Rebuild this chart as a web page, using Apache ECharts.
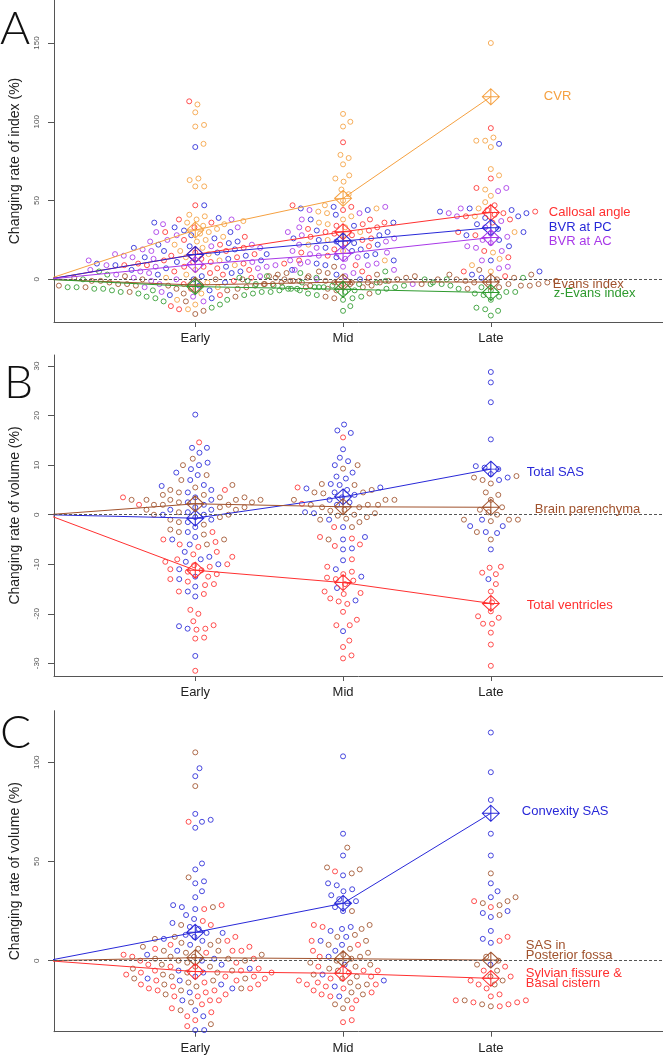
<!DOCTYPE html>
<html><head><meta charset="utf-8">
<script src="https://cdn.jsdelivr.net/npm/echarts@6/dist/echarts.min.js"></script>
<style>html,body{margin:0;padding:0;background:#fff}#c{width:663px;height:1055px}</style>
</head><body><div id="c"></div>
<script>
// ---------- categories / ticks ----------
const groups = ['Early', 'Mid', 'Late'];
const ticksA = [0, 50, 100, 150];
const ticksB = [-30, -20, -10, 0, 10, 20, 30];
const ticksC = [0, 50, 100];

// ---------- Panel A : changing rate of index (%) ----------
const cvrE = [111, 106, 98, 97, 86, 64, 63, 59, 59, 41, 40, 38, 37, 36, 35, 34, 32, 30, 29, 27, 25, 24, 22, 20, 18, 16, 14, 12, 9, 6, 3, 1, -2, -5, -9, -13, -16, -19];
const cvrM = [105, 100, 97, 79, 77, 73, 66, 64, 62, 57, 54, 50, 47, 45, 43, 42, 40, 38, 36, 35, 33, 30, 28, 25, 22, 18, 12];
const cvrL = [150, 90, 88, 88, 84, 70, 66, 57, 53, 49, 45, 40, 30, 17, 13, 9, 5];
const cvrMean = [31.3, 51.4, 115.9];

const caE = [113, 47, 38, 36, 33, 30, 27, 25, 22, 20, 18, 17, 16, 15, 14, 13, 12, 11, 11, 10, 10, 10, 9, 9, 8, 8, 7, 6, 5, 4, 3, 1, -1, -3, -6, -10, -17, -19];
const caM = [87, 47, 46, 44, 38, 36, 35, 34, 33, 32, 31, 30, 29, 28, 27, 26, 25, 23, 21, 19, 17, 15, 12, 9, 5, 1, -3];
const caL = [96, 64, 58, 47, 44, 43, 42, 41, 40, 38, 36, 30, 28, 18, 14, 5, 2];
const caMean = [15.8, 30.2, 42.4];

const pcE = [84, 47, 39, 36, 33, 31, 30, 28, 26, 24, 23, 22, 21, 20, 19, 18, 17, 16, 15, 14, 13, 12, 11, 10, 9, 8, 7, 6, 5, 4, 3, 2, 0, -2, -4, -7, -10, -12];
const pcM = [46, 45, 44, 41, 38, 36, 34, 31, 30, 28, 26, 25, 24, 23, 22, 20, 19, 18, 16, 15, 14, 12, 10, 9, 6, 3, 0];
const pcL = [86, 45, 44, 43, 42, 40, 39, 35, 32, 30, 28, 25, 21, 12, 5, 3, 1];
const pcMean = [15.8, 24.3, 32.8];

const acE = [38, 35, 33, 30, 28, 25, 24, 22, 21, 20, 19, 18, 16, 15, 14, 13, 12, 11, 10, 9, 9, 8, 8, 7, 6, 6, 5, 4, 3, 2, 1, 0, -1, -3, -5, -8, -11, -14];
const acM = [46, 44, 42, 38, 33, 30, 28, 26, 24, 22, 20, 18, 17, 16, 15, 14, 13, 12, 11, 10, 9, 8, 6, 4, 2, 0, -3];
const acL = [58, 56, 45, 42, 40, 37, 33, 29, 27, 25, 23, 21, 20, 18, 12, 8, 7];
const acMean = [9.4, 16.4, 26.5];

const evE = [4, 3, 2, 2, 1, 1, 0, 0, 0, -1, -1, -1, -1, -2, -2, -2, -2, -3, -3, -3, -3, -3, -4, -4, -4, -4, -5, -5, -5, -6, -6, -7, -8, -9, -11, -14, -20, -22];
const evM = [8, 5, 4, 3, 2, 2, 1, 1, 0, 0, 0, -1, -1, -1, -2, -2, -2, -3, -3, -4, -4, -5, -6, -7, -9, -11, -12];
const evL = [6, 3, 3, 1, 0, 0, -1, -1, -2, -2, -2, -3, -3, -4, -4, -5, -6];
const evMean = [-3.6, -1.7, -1.7];

const zeE = [5, 3, 1, 0, -1, -1, -2, -2, -3, -3, -3, -4, -4, -4, -4, -5, -5, -5, -5, -6, -6, -6, -6, -7, -7, -7, -8, -8, -8, -9, -9, -10, -11, -12, -13, -14, -16, -18];
const zeM = [5, 4, 2, 1, 0, -1, -2, -3, -3, -4, -4, -5, -5, -5, -6, -6, -7, -7, -8, -8, -9, -10, -11, -12, -13, -17, -20];
const zeL = [1, 0, -2, -3, -4, -5, -6, -7, -8, -8, -9, -10, -11, -13, -18, -19, -20, -23];
const zeMean = [-4.6, -6.3, -8.4];

// ---------- Panel B : changing rate of volume (%) ----------
const sasE = [20.2, 13.5, 13.5, 12.5, 10.5, 10, 9.2, 8.5, 8, 7, 6, 5.8, 5, 4.5, 3.5, 3, 2.5, 2, 1.5, 1, 1, 0.5, 0, 0, -0.5, -1, -1.5, -2.5, -3.5, -4.5, -5, -6, -7.5, -8.5, -9, -9.5, -10, -11, -12.5, -13, -14.5, -15.5, -16.5, -22.5, -23, -28.5];
const sasM = [18.2, 17, 16.5, 13.2, 11.5, 10.8, 10, 8.5, 7.7, 7.3, 6.2, 6, 5.5, 5.3, 5, 4.5, 4, 3.5, 3, 2.5, 2, 0.5, 0.3, -1, -2.5, -4.5, -5, -6.8, -7, -9.2, -11, -12.5, -14.8, -17.3, -23.5];
const sasL = [28.8, 26.7, 22.7, 15.2, 9.8, 9.5, 9.2, 8.2, 7.5, 7, -1, -2.3, -2.3, -3.5, -3.7, -7, -13];
const sasMean = [-0.7, 3.6, 9.2];

const bpE = [11.3, 10, 8, 7, 6, 5.5, 5, 4.5, 4, 4, 3.5, 3.5, 3, 3, 3, 3, 3, 2.5, 2.5, 2, 2, 2, 1.5, 1.5, 1, 1, 0.5, 0, 0, -0.5, -1, -1.5, -2, -3, -3.5, -4, -5, -6];
const bpM = [10, 9.3, 6.2, 6, 5, 4.5, 4.5, 4.3, 3, 3, 3, 2, 2, 2, 1.5, 1.5, 1, 0.8, 0.3, 0, -0.2, -0.5, -0.8, -1, -1.5, -2.5, -5];
const bpL = [7.8, 7.5, 7, 6.3, 4.5, 4, 3, 1.5, 1, 0.5, 0, -1, -1, -1, -1.3, -3.5, -5];
const bpMean = [2.2, 1.6, 1.5];

const tvE = [14.6, 5, 3.5, 2, -3.5, -5, -5.5, -6, -6.5, -7.5, -8, -8.5, -9, -9.5, -10, -10.2, -10.5, -11, -11.2, -11.5, -12, -12.5, -13, -13.5, -14, -14.2, -15.5, -16, -19.2, -20, -21.5, -22.3, -23, -23.2, -24.8, -25, -31.5];
const tvM = [15.6, 5.5, 2.2, -2.5, -4.5, -4.8, -6, -6.3, -9, -10.5, -11.5, -12, -12.7, -13, -13.3, -14, -15.5, -15.8, -16, -16.9, -17.5, -18, -19.6, -21.2, -22.3, -22.3, -25.4, -26.7, -28.4, -29];
const tvL = [-10.5, -10.7, -11.7, -12, -14, -15.5, -17.7, -19.5, -20.5, -20.8, -22, -22, -23.8, -26.2, -30.5];
const tvMean = [-11.2, -13.7, -17.9];

// ---------- Panel C : changing rate of volume (%) ----------
const cxE = [97, 93, 74, 71, 70, 67, 49, 46, 40, 39, 35, 32, 28, 27, 26, 23, 21, 19, 17, 16, 14, 14, 13, 12, 11, 10, 8, 5, 3, 1, 0, -2, -4, -5, -6, -8, -9, -10, -12, -14, -16, -20, -25, -28, -35, -35];
const cxM = [103, 64, 53, 43, 39, 38, 36, 35, 33, 31, 30, 29, 27, 25, 17, 16, 15, 12, 10, 8, 5, 2, -2, -7, -10, -13, -18];
const cxL = [115, 95, 81, 64, 53, 39, 35, 32, 25, 24, 22, 15, 11, 9, -2];
const cxMean = [14.3, 28.9, 74.3];

const pfE = [105, 88, 42, 27, 18, 12, 11, 10, 9, 8, 7, 6, 5, 5, 4, 3, 2, 2, 1, 1, 0, 0, -1, -2, -3, -3, -4, -5, -6, -6, -7, -8, -9, -9, -10, -11, -12, -13, -14, -15, -17, -21, -25, -32];
const pfM = [57, 47, 46, 44, 25, 18, 16, 13, 12, 10, 8, 6, 4, 3, 2, 1, 0, -1, -2, -3, -4, -5, -7, -8, -9, -11, -12, -13, -16, -17, -20, -22, -24];
const pfL = [44, 32, 30, 29, 28, 23, 2, 0, -2, -5, -8, -10, -12, -20, -22, -23];
const pfMean = [1.5, 1.0, 0.3];

const syE = [70, 28, 26, 20, 18, 12, 10, 8, 7, 6, 5, 5, 4, 3, 2, 1, 0, -1, -2, -3, -4, -5, -5, -6, -6, -7, -8, -8, -9, -10, -10, -11, -12, -12, -13, -14, -14, -15, -15, -16, -17, -18, -18, -20, -20, -22, -24, -26, -28, -30, -33];
const syM = [45, 18, 17, 10, 8, 5, 2, -3, -5, -5, -6, -8, -9, -10, -11, -12, -12, -13, -14, -15, -16, -17, -18, -20, -24, -30, -31];
const syL = [30, 27, 12, 10, -3, -5, -8, -10, -12, -14, -17, -18, -20, -20, -21, -21, -22, -23];
const syMean = [-5.5, -6.4, -8.9];

// ---------- layout / style ----------
const FONT = '"Liberation Sans", Arial, sans-serif';
const C_OR = '#F5A040', C_RD = '#FF3030', C_BL = '#2828D8', C_PU = '#A838E8', C_BR = '#A0522D', C_GR = '#2E9A2E';
const X_MIN = 0.044, X_MAX = 4.165, GRID_LEFT = 49, GRID_W = 614, SWARM_D = 9;

const panels = [
  { letter: 'A', letterX: 0, letterY: 29.5, title: 'Changing rate of index (%)', top: -35, height: 357, yMin: -27.08, yMax: 177.31, ticks: ticksA,
    series: [
      { name: 'CVR', color: C_OR, pts: [cvrE, cvrM, cvrL], mean: cvrMean, dx: 53, dy: -0.6 },
      { name: 'Callosal angle', color: C_RD, pts: [caE, caM, caL], mean: caMean, dx: 58, dy: 0 },
      { name: 'BVR at PC', color: C_BL, pts: [pcE, pcM, pcL], mean: pcMean, dx: 58, dy: 0 },
      { name: 'BVR at AC', color: C_PU, pts: [acE, acM, acL], mean: acMean, dx: 58, dy: 3.6 },
      { name: 'Evans index', color: C_BR, pts: [evE, evM, evL], mean: evMean, dx: 62, dy: 2.3 },
      { name: 'z-Evans index', color: C_GR, pts: [zeE, zeM, zeL], mean: zeMean, dx: 63, dy: 0.6 }
    ] },
  { letter: 'B', letterX: 4, letterY: 383, title: 'Changing rate of volume (%)', top: 355, height: 321, yMin: -32.55, yMax: 32.23, ticks: ticksB,
    series: [
      { name: 'Total SAS', color: C_BL, pts: [sasE, sasM, sasL], mean: sasMean, dx: 36, dy: 3 },
      { name: 'Brain parenchyma', color: C_BR, pts: [bpE, bpM, bpL], mean: bpMean, dx: 44, dy: 1.7 },
      { name: 'Total ventricles', color: C_RD, pts: [tvE, tvM, tvL], mean: tvMean, dx: 36, dy: 2.3 }
    ] },
  { letter: 'C', letterX: 0, letterY: 733, title: 'Changing rate of volume (%)', top: 710.7, height: 321, yMin: -35.8, yMax: 126.0, ticks: ticksC,
    series: [
      { name: 'Convexity SAS', color: C_BL, pts: [cxE, cxM, cxL], mean: cxMean, dx: 31, dy: -1.6 },
      { name: 'SAS in\nPosterior fossa', color: C_BR, pts: [pfE, pfM, pfL], mean: pfMean, dx: 35, dy: -9.6 },
      { name: 'Sylvian fissure &\nBasal cistern', color: C_RD, pts: [syE, syM, syL], mean: syMean, dx: 35, dy: 0 }
    ] }
];

// beeswarm ("swarm" method, ascending priority) in pixel space
function swarm(vals, d) {
  const idx = vals.map((v, i) => i).sort((a, b) => vals[a] - vals[b]);
  const xs = new Array(vals.length);
  const placed = [];
  for (const i of idx) {
    const y = vals[i];
    const near = placed.filter(p => Math.abs(p.y - y) < d);
    const cands = [0];
    for (const p of near) {
      const dx = Math.sqrt(d * d - (p.y - y) * (p.y - y));
      cands.push(p.x + dx, p.x - dx);
    }
    let best = null;
    for (const c of cands) {
      if (near.every(p => (p.x - c) * (p.x - c) + (p.y - y) * (p.y - y) >= d * d - 1e-6)) {
        if (best === null || Math.abs(c) < Math.abs(best) - 1e-9) best = c;
      }
    }
    xs[i] = best;
    placed.push({ x: best, y: y });
  }
  return xs;
}

const DIAMOND = 'path://M10,0 L20,10 L10,20 L0,10 Z M10,0 L10,20 M0,10 L20,10';

const grids = [], xAxes = [], yAxes = [], series = [];
panels.forEach((P, k) => {
  grids.push({ left: GRID_LEFT, width: GRID_W, top: P.top, height: P.height });
  xAxes.push({
    type: 'value', gridIndex: k, min: X_MIN, max: X_MAX,
    axisLine: { show: true, onZero: false, lineStyle: { color: '#555', width: 1 } },
    axisTick: { show: true, customValues: [1, 2, 3], length: 5, lineStyle: { color: '#555' } },
    axisLabel: { show: true, customValues: [1, 2, 3], formatter: v => groups[Math.round(v) - 1] || '', fontSize: 13, color: '#222', fontFamily: FONT, margin: 10 },
    splitLine: { show: false }
  });
  yAxes.push({
    type: 'value', gridIndex: k, min: P.yMin, max: P.yMax,
    name: P.title, nameLocation: 'middle', nameGap: 32, nameRotate: 90,
    nameTextStyle: { fontSize: 14, color: '#222', fontFamily: FONT },
    axisLine: { show: true, onZero: false, lineStyle: { color: '#555', width: 1 } },
    axisTick: { show: true, customValues: P.ticks, length: 6, lineStyle: { color: '#555' } },
    axisLabel: { show: true, customValues: P.ticks, rotate: 90, fontSize: 8, color: '#555', fontFamily: FONT, margin: 13 },
    splitLine: { show: false }
  });
  const pyx = P.height / (P.yMax - P.yMin);
  const pxx = GRID_W / (X_MAX - X_MIN);
  const scatterData = P.series.map(() => []);
  for (let g = 0; g < 3; g++) {
    const all = [];
    P.series.forEach((s, si) => s.pts[g].forEach(v => all.push({ si: si, v: v })));
    const offs = swarm(all.map(a => a.v * pyx), SWARM_D);
    all.forEach((a, j) => scatterData[a.si].push([g + 1 + offs[j] / pxx, a.v]));
  }
  P.series.forEach((s, si) => {
    series.push({
      type: 'scatter', xAxisIndex: k, yAxisIndex: k, z: 2, silent: true,
      symbol: 'circle', symbolSize: 5,
      itemStyle: { color: 'rgba(0,0,0,0)', borderColor: s.color, borderWidth: 1, opacity: 0.85 },
      data: scatterData[si]
    });
  });
  P.series.forEach((s, si) => {
    const data = [{ value: [0, 0], symbol: 'none' }].concat(s.mean.map((m, g) => ({ value: [g + 1, m] })));
    const ser = {
      type: 'line', xAxisIndex: k, yAxisIndex: k, z: 3, silent: true,
      symbol: DIAMOND, symbolSize: [17, 16], showSymbol: true,
      lineStyle: { color: s.color, width: 1 },
      itemStyle: { color: 'rgba(0,0,0,0)', borderColor: s.color, borderWidth: 1 },
      data: data
    };
    if (si === P.series.length - 1) {
      ser.markLine = {
        silent: true, symbol: ['none', 'none'], label: { show: false },
        lineStyle: { type: [3, 2], color: '#555', width: 1 },
        data: [{ yAxis: 0 }]
      };
    }
    series.push(ser);
  });
});

const chart = echarts.init(document.getElementById('c'), null, { renderer: 'canvas', devicePixelRatio: 1 });
chart.setOption({ animation: false, backgroundColor: '#fff', grid: grids, xAxis: xAxes, yAxis: yAxes, series: series });

const graphics = [];
panels.forEach((P, k) => {
  graphics.push({ type: 'text', x: P.letterX, y: P.letterY, silent: true,
    style: { text: P.letter, fontSize: 46, fontFamily: 'Lato, ' + FONT, fontWeight: 300, fill: '#111', align: 'left', verticalAlign: 'middle' } });
  P.series.forEach(s => {
    const p = chart.convertToPixel({ gridIndex: k }, [3, s.mean[2]]);
    graphics.push({ type: 'text', x: p[0] + s.dx, y: p[1] + s.dy, silent: true, z: 10,
      style: { text: s.name, fontSize: 13, fontFamily: FONT, fill: s.color, align: 'left', verticalAlign: 'middle', lineHeight: 10.5 } });
  });
});
chart.setOption({ graphic: graphics });
</script>
</body></html>
